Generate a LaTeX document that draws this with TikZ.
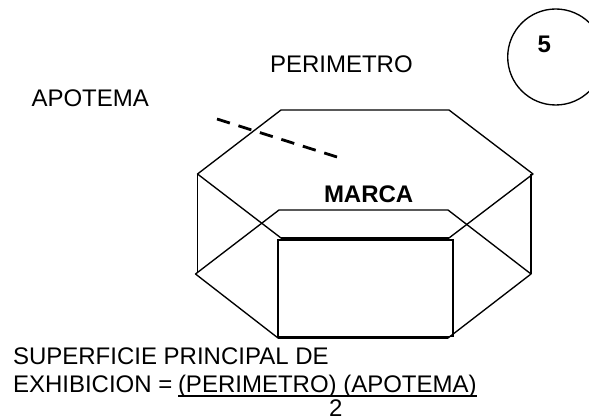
\documentclass[tikz,border=0pt]{standalone}
\usepackage{fontspec}
\setmainfont{Liberation Sans}
\tikzset{
  lbl/.style={anchor=base west,inner sep=0pt,outer sep=0pt,font=\fontsize{24}{28}\selectfont},
  lblb/.style={lbl,font=\fontsize{24}{28}\selectfont\bfseries},
  edge/.style={draw=black,line width=1.35pt,line join=round},
  heavy/.style={draw=black,line width=1.8pt,line join=miter},
  dashline/.style={draw=black,line width=2.8pt,dash pattern=on 13.5pt off 9pt},
  rulebar/.style={draw=black,line width=1.6pt}
}
\begin{document}
\begin{tikzpicture}[x=1pt,y=-1pt]
\useasboundingbox (0,0) rectangle (589,419);
\clip (0,0) rectangle (589,419);
% top hexagon
\coordinate (t1) at (281,110);
\coordinate (t2) at (449,110);
\coordinate (t3) at (533,174);
\coordinate (t4) at (449,238);
\coordinate (t5) at (281,238);
\coordinate (t6) at (197.5,174);
% lower hexagon
\coordinate (b1) at (279,210);
\coordinate (b2) at (448,210);
\coordinate (b3) at (531,274);
\coordinate (b4) at (448,338);
\coordinate (b5) at (278,338);
\coordinate (b6) at (195.5,274);
\coordinate (vr) at (531,174);
\coordinate (vl) at (197.5,273);
\draw[edge] (t1) -- (t2) -- (t3) -- (t4) -- (t5) -- (t6) -- cycle;
\draw[edge] (b1) -- (b2) -- (b3) -- (b4) -- (b5) -- (b6) -- cycle;
\draw[edge] (t6) -- (vl);
\draw[edge] (vr) -- (b3);
\draw[heavy] (277.7,240) rectangle (453.3,336.5);
\draw[heavy] (t4) -- (t5);
\draw[heavy] (b4) -- (b5);
% apothem
\coordinate (a1) at (217,119);
\coordinate (a2) at (337,157);
\draw[dashline] (a1) -- (a2);
% circle
\node[draw=black,line width=1.35pt,circle,minimum size=96pt,inner sep=0pt] (c) at (555.7,57) {};
\node[lblb] (five) at (537.5,53) {5};
\node[lbl] (per) at (270,73) {PERIMETRO};
\node[lbl] (apo) at (31.5,106.5) {APOTEMA};
\node[lblb] (mar) at (324,203) {MARCA};
\node[lbl] (sup) at (13,365) {SUPERFICIE PRINCIPAL DE};
\node[lbl] (exh) at (13,392) {EXHIBICION =};
\node[lbl] (frac) at (178,392) {(PERIMETRO) (APOTEMA)};
\coordinate (u1) at (178,396);
\coordinate (u2) at (frac.east |- u1);
\draw[rulebar] (u1) -- (u2);
\node[lbl] (two) at (329,417) {2};
\end{tikzpicture}
\end{document}
